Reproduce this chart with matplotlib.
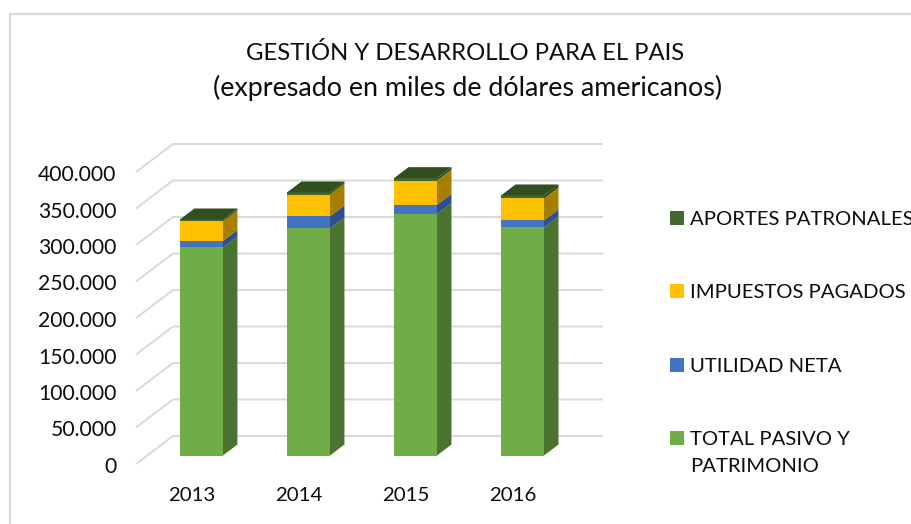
import matplotlib
matplotlib.use("Agg")
import matplotlib.pyplot as plt
from matplotlib.patches import Polygon, Rectangle
from matplotlib.transforms import Affine2D
from matplotlib.ticker import FuncFormatter
import numpy as np

years = ["2013", "2014", "2015", "2016"]
total_pasivo = [285000, 311000, 331000, 312500]
utilidad = [9000, 16500, 12300, 9600]
impuestos = [27000, 30000, 33300, 30000]
aportes = [2300, 2800, 3300, 4100]
y_ticks = [0, 50000, 100000, 150000, 200000, 250000, 300000, 350000, 400000]

series = [total_pasivo, utilidad, impuestos, aportes]
front_colors = ["#70AD47", "#4472C4", "#FFC000", "#43682B"]
side_colors = ["#4A732F", "#2D4F8E", "#A67E00", "#2D4A1C"]
top_color = "#304E1E"
legend_names = ["APORTES PATRONALES", "IMPUESTOS PAGADOS", "UTILIDAD NETA", "TOTAL PASIVO Y\nPATRIMONIO"]
legend_colors = ["#43682B", "#FFC000", "#4472C4", "#70AD47"]
legend_y = [218, 291, 365, 438]

W, H = 912, 524
text_color = "#0D0D0D"
plt.rcParams["font.family"] = ["Lato", "DejaVu Sans"]
fig = plt.figure(figsize=(W / 100, H / 100), dpi=100)
ax = fig.add_axes([136 / W, (H - 464) / H, 430 / W, 292 / H])
ax.set_xlim(-0.518, 3.5)
ax.set_ylim(0, 400000)

# sizes of one pixel in data units
px_x = (3.5 + 0.518) / 430
px_y = 400000 / 292
wall_x, wall_y = 37 * px_x, 28 * px_y

for s in ax.spines.values():
    s.set_visible(False)
ax.set_xticks(range(len(years)), years)
ax.set_yticks(y_ticks)
ax.yaxis.set_major_formatter(FuncFormatter(lambda v, p: f"{int(v):,}".replace(",", ".")))
ax.tick_params(axis="x", length=0, pad=16.5, labelsize=14.7, labelcolor=text_color)
ax.tick_params(axis="y", length=0, pad=14, labelsize=15.2, labelcolor=text_color)
for label in ax.get_yticklabels():
    label.set_transform(label.get_transform() + Affine2D().translate(0, -1))

grid_color = "#D9D9D9"
x0, x1 = ax.get_xlim()
for v in y_ticks:
    ax.plot([x0, x0 + wall_x, x1 + wall_x], [v, v + wall_y, v + wall_y], color=grid_color,
            lw=1.4, clip_on=False, zorder=1, solid_capstyle="butt")

# bars sit in the middle of the floor depth
bar_w = 43 * px_x
shift_x, shift_y = 10 * px_x, 8.5 * px_y
side_x, side_y = 14.5 * px_x, 11 * px_y
for i in range(len(years)):
    left = i + shift_x - bar_w / 2
    right = left + bar_w
    base = shift_y
    for vals, c, sc in zip(series, front_colors, side_colors):
        v = vals[i]
        ax.add_patch(Polygon([[right, base], [right + side_x, base + side_y],
                              [right + side_x, base + v + side_y], [right, base + v]],
                             facecolor=sc, edgecolor="none", clip_on=False, zorder=2))
        ax.bar(left, v, width=bar_w, bottom=base, align="edge", color=c, clip_on=False, zorder=3)
        base += v
    ax.add_patch(Polygon([[left, base], [right, base], [right + side_x, base + side_y],
                          [left + side_x, base + side_y]],
                         facecolor=top_color, edgecolor="none", clip_on=False, zorder=3))

# everything below is placed in image pixels, measured from the top left
to_px = Affine2D().scale(1, -1).translate(0, H)
fig.add_artist(plt.Line2D([10, 10, W], [H, 14, 14], color=grid_color, lw=1.6, transform=to_px))
fig.text(465, 53, "GESTIÓN Y DESARROLLO PARA EL PAIS", transform=to_px, ha="center", va="center",
         fontsize=17.2, color=text_color)
fig.text(468, 88, "(expresado en miles de dólares americanos)", transform=to_px, ha="center", va="center",
         fontsize=19.4, color=text_color)

for name, c, y in zip(legend_names, legend_colors, legend_y):
    fig.add_artist(Rectangle((670, y - 7), 14, 14, facecolor=c, edgecolor="none", transform=to_px))
    fig.text(690, y - 7, name, transform=to_px, ha="left", va="top", fontsize=14.6, color=text_color,
             linespacing=1.72)

fig.savefig("out.png", dpi=100)
